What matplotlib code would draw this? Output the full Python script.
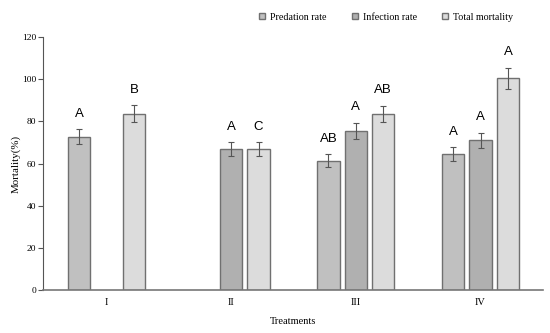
import matplotlib
matplotlib.use("Agg")
import matplotlib.pyplot as plt
import numpy as np

treatments = ["I", "II", "III", "IV"]
series = ["Predation rate", "Infection rate", "Total mortality"]

# nan = bar not present in that treatment
predation = [72.7, np.nan, 61.3, 64.4]
predation_err = [3.5, np.nan, 3.0, 3.2]
infection = [np.nan, 66.7, 75.6, 71.0]
infection_err = [np.nan, 3.3, 3.8, 3.6]
total = [83.6, 66.7, 83.5, 100.4]
total_err = [4.0, 3.3, 4.0, 5.0]

pred_letters = ["A", "", "AB", "A"]
inf_letters = ["", "A", "A", "A"]
total_letters = ["B", "C", "AB", "A"]

colors = ["#c0c0c0", "#b0b0b0", "#dcdcdc"]
edge = "#707070"
serif = "Liberation Serif"
sans = "Liberation Sans"

fig = plt.figure(figsize=(5.5, 3.33), dpi=100)
ax = fig.add_axes([0.078, 0.129, 0.909, 0.76])

x = np.arange(len(treatments))
width = 0.18
offset = 0.22

groups = [
    (predation, predation_err, pred_letters),
    (infection, infection_err, inf_letters),
    (total, total_err, total_letters),
]

for i, (vals, errs, letters) in enumerate(groups):
    pos = x + (i - 1) * offset
    ax.bar(pos, vals, width, color=colors[i], edgecolor=edge, linewidth=1.0,
           label=series[i], zorder=2)
    ax.errorbar(pos, vals, yerr=errs, fmt="none", ecolor="#555555",
                elinewidth=0.8, capsize=2.5, capthick=0.8, zorder=3)
    for p, v, e, t in zip(pos, vals, errs, letters):
        if t and not np.isnan(v):
            ax.annotate(t, (p, v + e), xytext=(0, 7), textcoords="offset points",
                        ha="center", va="bottom", fontsize=9.5, family=sans)

ax.set_xlim(-0.51, 3.5)
ax.set_ylim(0, 120)
ax.set_yticks(range(0, 121, 20))
ax.set_xticks(x)
ax.set_xticklabels(treatments)
ax.tick_params(axis="x", length=0, pad=6)
ax.tick_params(axis="y", length=3.5, color="#555555", width=0.8, pad=1.5)
for lab in ax.get_xticklabels():
    lab.set_family(serif)
    lab.set_fontsize(7.5)
for lab in ax.get_yticklabels():
    lab.set_family(serif)
    lab.set_fontsize(6.8)

for s in ["top", "right"]:
    ax.spines[s].set_visible(False)
ax.spines["left"].set_color("#555555")
ax.spines["bottom"].set_color("#777777")
ax.spines["bottom"].set_linewidth(1.2)

ax.set_ylabel("Mortality(%)", family=serif, fontsize=7.8, labelpad=1)
ax.set_xlabel("Treatments", family=serif, fontsize=7.5, labelpad=7)

leg = fig.legend(loc="center left", bbox_to_anchor=(0.471, 0.948), ncol=3,
                 frameon=False, prop={"family": serif, "size": 7.2},
                 handlelength=0.6, handleheight=0.6, handletextpad=0.5,
                 columnspacing=2.5, borderpad=0, borderaxespad=0)

fig.savefig("out.png", dpi=100)
